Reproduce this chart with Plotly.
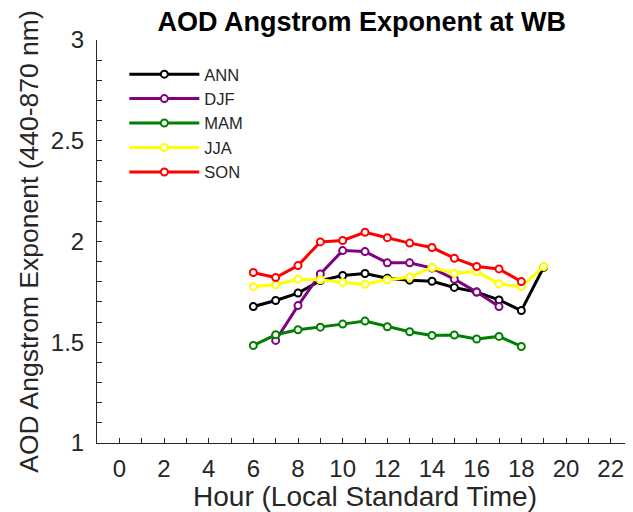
import plotly.graph_objects as go

hours_ann = [6, 7, 8, 9, 10, 11, 12, 13, 14, 15, 16, 17, 18, 19]
ann = [1.677, 1.707, 1.744, 1.806, 1.831, 1.841, 1.818, 1.808, 1.803, 1.772, 1.749, 1.710, 1.657, 1.872]

hours_djf = [7, 8, 9, 10, 11, 12, 13, 14, 15, 16, 17]
djf = [1.509, 1.682, 1.839, 1.955, 1.950, 1.894, 1.894, 1.868, 1.813, 1.749, 1.677]

hours_mam = [6, 7, 8, 9, 10, 11, 12, 13, 14, 15, 16, 17, 18]
mam = [1.484, 1.537, 1.562, 1.575, 1.590, 1.605, 1.577, 1.552, 1.534, 1.536, 1.516, 1.529, 1.479]

hours_jja = [6, 7, 8, 9, 10, 11, 12, 13, 14, 15, 16, 17, 18, 19]
jja = [1.776, 1.785, 1.813, 1.810, 1.796, 1.788, 1.810, 1.823, 1.871, 1.843, 1.851, 1.790, 1.776, 1.876]

hours_son = [6, 7, 8, 9, 10, 11, 12, 13, 14, 15, 16, 17, 18]
son = [1.846, 1.821, 1.881, 1.998, 2.005, 2.046, 2.019, 1.992, 1.970, 1.917, 1.876, 1.864, 1.801]

series = [
    ("ANN", hours_ann, ann, "#000000"),
    ("DJF", hours_djf, djf, "#800080"),
    ("MAM", hours_mam, mam, "#008000"),
    ("JJA", hours_jja, jja, "#FFFF00"),
    ("SON", hours_son, son, "#FF0000"),
]

FONT = "Liberation Sans, Arial, sans-serif"

fig = go.Figure()
for name, x, y, c in series:
    fig.add_trace(go.Scatter(
        x=x, y=y, name=name, mode="lines+markers",
        line=dict(color=c, width=3),
        marker=dict(symbol="circle", size=7, color="white",
                    line=dict(color=c, width=2)),
    ))

fig.update_layout(
    width=625, height=504,
    margin=dict(l=89, r=0, t=32, b=69, autoexpand=False),
    paper_bgcolor="white", plot_bgcolor="white",
    font=dict(family=FONT, color="#262626"),
    title=dict(text="<b>AOD Angstrom Exponent at WB</b>",
               font=dict(family=FONT, size=27, color="black"),
               x=0.566, xanchor="center", y=0.974, yanchor="middle"),
    showlegend=True,
    legend=dict(x=0.051, y=0.958, xanchor="left", yanchor="top",
                bgcolor="rgba(0,0,0,0)", font=dict(size=16.5, color="#262626"),
                itemwidth=70, tracegroupgap=0),
    xaxis=dict(
        range=[-1, 23], tickmode="linear", tick0=0, dtick=2,
        automargin=False,
        ticks="inside", ticklen=5, tickcolor="#262626",
        minor=dict(dtick=1, ticks="inside", ticklen=5, tickcolor="#262626"),
        showline=True, linecolor="#262626", linewidth=1,
        showgrid=False, zeroline=False,
        tickfont=dict(size=24, color="#262626"),
        ticklabelstandoff=4,
        title=dict(text="Hour (Local Standard Time)", font=dict(size=28, color="#262626"), standoff=2),
    ),
    yaxis=dict(
        range=[1, 3], tickmode="linear", tick0=1, dtick=0.5,
        automargin=False,
        ticks="inside", ticklen=5, tickcolor="#262626",
        minor=dict(dtick=0.1, ticks="inside", ticklen=5, tickcolor="#262626"),
        showline=True, linecolor="#262626", linewidth=1,
        showgrid=False, zeroline=False,
        tickfont=dict(size=24, color="#262626"),
        ticklabelstandoff=7,
        title=dict(text="AOD Angstrom Exponent (440-870 nm)", font=dict(size=26.5, color="#262626"), standoff=4),
    ),
)

fig.write_html("out.html")
